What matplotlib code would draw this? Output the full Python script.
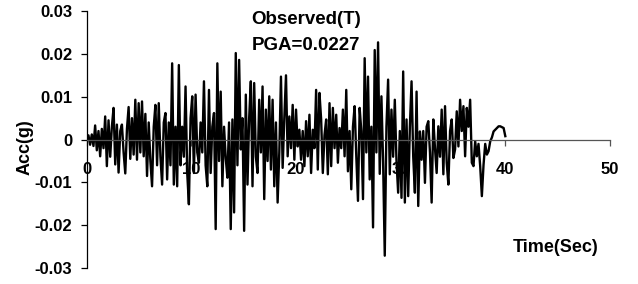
import numpy as np
import matplotlib
matplotlib.use("Agg")
import matplotlib.pyplot as plt

plt.rcParams['font.family'] = ['Liberation Sans', 'DejaVu Sans']
plt.rcParams['font.weight'] = 'bold'

dt = 0.16
acc = [
    0.0000, 0.0010, -0.0012, 0.0012, -0.0015, 0.0033, -0.0025, 0.0020, -0.0039, 0.0025,
    -0.0020, 0.0054, -0.0062, 0.0045, -0.0040, 0.0030, 0.0074, -0.0058, 0.0035, -0.0077,
    0.0020, 0.0035, -0.0030, -0.0079, 0.0025, 0.0076, -0.0045, 0.0050, -0.0035, 0.0093,
    -0.0047, 0.0085, -0.0030, 0.0089, -0.0039, 0.0060, -0.0085, 0.0040, -0.0050, -0.0109,
    0.0030, 0.0081, -0.0060, 0.0085, -0.0040, -0.0105, 0.0040, 0.0062, -0.0093, 0.0040,
    -0.0060, 0.0178, -0.0105, 0.0030, -0.0109, 0.0174, -0.0060, 0.0030, -0.0040, 0.0124,
    -0.0078, -0.0151, 0.0050, 0.0101, -0.0078, 0.0105, -0.0030, -0.0054, 0.0040, -0.0030,
    0.0136, -0.0060, -0.0109, 0.0116, -0.0078, 0.0030, 0.0062, -0.0209, 0.0178, -0.0050,
    0.0112, -0.0109, 0.0030, -0.0043, -0.0089, 0.0040, -0.0209, 0.0047, -0.0170, 0.0202,
    -0.0060, 0.0186, -0.0023, 0.0050, -0.0213, 0.0105, -0.0105, 0.0050, 0.0136, -0.0109,
    0.0132, -0.0040, -0.0078, 0.0093, -0.0030, 0.0124, -0.0139, 0.0070, -0.0050, 0.0101,
    -0.0070, 0.0093, -0.0109, 0.0040, -0.0147, -0.0030, 0.0147, -0.0066, 0.0050, 0.0150,
    -0.0039, 0.0054, -0.0020, 0.0081, -0.0047, 0.0070, -0.0016, 0.0023, -0.0047, 0.0020,
    -0.0062, 0.0043, -0.0039, 0.0058, -0.0078, 0.0023, -0.0020, 0.0116, -0.0070, 0.0109,
    0.0047, -0.0078, 0.0010, 0.0047, -0.0081, 0.0085, -0.0062, 0.0074, -0.0020, 0.0058,
    -0.0054, 0.0027, -0.0020, 0.0070, -0.0039, 0.0116, -0.0074, 0.0020, -0.0116, 0.0030,
    0.0078, -0.0040, -0.0143, 0.0074, 0.0020, -0.0139, 0.0190, -0.0030, 0.0147, -0.0093,
    0.0030, -0.0205, 0.0209, -0.0030, 0.0227, -0.0080, 0.0101, -0.0050, -0.0271, 0.0030,
    0.0140, -0.0081, 0.0070, -0.0040, 0.0093, -0.0050, -0.0124, 0.0020, -0.0136, 0.0159,
    -0.0147, 0.0047, -0.0132, 0.0030, 0.0136, -0.0040, -0.0124, 0.0112, -0.0155, 0.0019,
    -0.0047, 0.0020, -0.0101, 0.0030, 0.0043, -0.0030, -0.0147, 0.0047, -0.0020, -0.0078,
    0.0031, -0.0040, 0.0070, -0.0081, 0.0078, -0.0054, -0.0105, 0.0020, 0.0047, -0.0043,
    -0.0023, 0.0066, -0.0016, 0.0093, 0.0020, 0.0078, -0.0039, 0.0074, 0.0030, 0.0093,
    -0.0054, -0.0062, -0.0004, -0.0039, -0.0010, -0.0062, -0.0132, -0.0059, -0.0010, -0.0035,
    -0.0027, -0.0004, 0.0005, 0.0019, 0.0023, 0.0027, 0.0031, 0.0031, 0.0029, 0.0027,
    0.0008,
]
time = np.arange(len(acc)) * dt

xticks = [0, 10, 20, 30, 40, 50]
xlabels = ['0', '10', '20', '30', '40', '50']
yticks = [0.03, 0.02, 0.01, 0, -0.01, -0.02, -0.03]
ylabels = ['0.03', '0.02', '0.01', '0', '-0.01', '-0.02', '-0.03']

fig = plt.figure(figsize=(6.38, 2.84), dpi=100)
ax = fig.add_axes([0.136, 0.056, 0.82, 0.905])

ax.plot(time, acc, color='black', lw=1.7, zorder=2)

ax.set_xlim(0, 50)
ax.set_ylim(-0.03, 0.03)
ax.spines['top'].set_visible(False)
ax.spines['right'].set_visible(False)
ax.spines['bottom'].set_position(('data', 0))
ax.spines['bottom'].set_color('#555555')
ax.spines['bottom'].set_linewidth(0.9)
ax.spines['left'].set_linewidth(0.9)
ax.set_axisbelow(True)

ax.set_xticks(xticks)
ax.set_xticklabels(xlabels)
ax.set_yticks(yticks)
ax.set_yticklabels(ylabels)
ax.tick_params(axis='x', direction='out', length=4, width=0.9, color='#555555',
               pad=12, labelsize=12)
ax.tick_params(axis='y', direction='out', length=4, width=0.9, pad=6.5, labelsize=12)
for lab in ax.get_xticklabels() + ax.get_yticklabels():
    lab.set_fontweight('bold')

fig.text(306 / 638, 1 - 19 / 284, 'Observed(T)', ha='center', va='center',
         fontsize=13.5, fontweight='bold')
fig.text(306 / 638, 1 - 45 / 284, 'PGA=0.0227', ha='center', va='center',
         fontsize=13.5, fontweight='bold')
fig.text(556 / 638, 1 - 248 / 284, 'Time(Sec)', ha='center', va='center',
         fontsize=13, fontweight='bold')
fig.text(25 / 638, 1 - 147 / 284, 'Acc(g)', ha='center', va='center',
         rotation=90, fontsize=13, fontweight='bold')

fig.savefig('out.png', dpi=100)
